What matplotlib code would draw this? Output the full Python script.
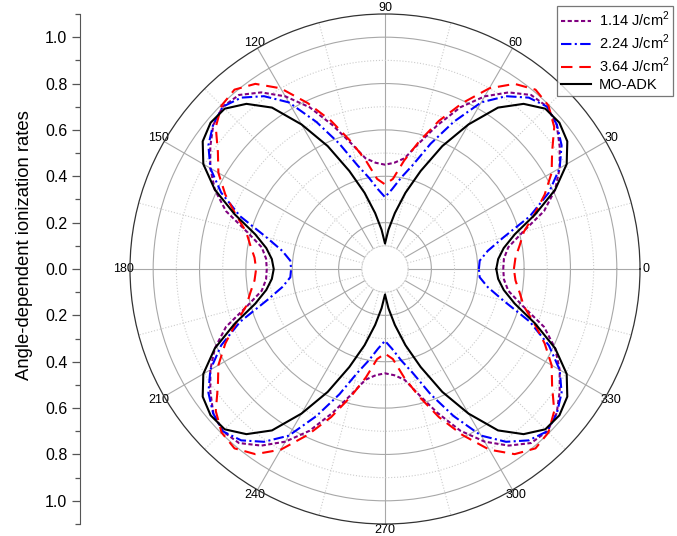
import numpy as np
import matplotlib.pyplot as plt
import matplotlib.ticker as mticker

plt.rcParams['font.family'] = ['Liberation Sans', 'DejaVu Sans']
plt.rcParams['mathtext.fontset'] = 'custom'
plt.rcParams['mathtext.rm'] = 'Liberation Sans'

# angle (deg) over one quadrant, curves are symmetric about both axes
angle_q = np.arange(0, 91, 5)

rate_114 = [0.51, 0.515, 0.54, 0.615, 0.73, 0.81, 0.87, 0.92, 0.967, 0.99,
            0.98, 0.93, 0.86, 0.77, 0.66, 0.56, 0.485, 0.46, 0.45]
rate_224 = [0.405, 0.41, 0.45, 0.53, 0.665, 0.78, 0.87, 0.93, 0.968, 0.99,
            0.965, 0.91, 0.83, 0.70, 0.575, 0.465, 0.40, 0.345, 0.31]
rate_364 = [0.556, 0.565, 0.59, 0.62, 0.685, 0.76, 0.83, 0.88, 0.953, 0.997,
            1.01, 0.975, 0.90, 0.79, 0.68, 0.57, 0.475, 0.39, 0.365]
rate_adk = [0.48, 0.49, 0.52, 0.58, 0.69, 0.81, 0.905, 0.96, 0.982, 0.978,
            0.93, 0.85, 0.72, 0.585, 0.45, 0.34, 0.245, 0.17, 0.11]

labels = ['1.14 J/cm$^2$', '2.24 J/cm$^2$', '3.64 J/cm$^2$', 'MO-ADK']
colors = ['#800080', '#0000ff', '#ff0000', '#000000']
styles = [(0, (2, 1.2)), (0, (5, 1.6, 1, 1.6)), (0, (5.5, 3.3)), '-']


def full_circle(a, r):
    a = np.asarray(a, float)
    r = np.asarray(r, float)
    th = np.concatenate([a, 180 - a[::-1][1:], 180 + a[1:], 360 - a[::-1][1:]])
    rr = np.concatenate([r, r[::-1][1:], r[1:], r[::-1][1:]])
    return np.deg2rad(th), rr


fig = plt.figure(figsize=(6.77, 5.36), dpi=100)
ax = fig.add_axes([130/677, 12/536, 510/677, 510/536], projection='polar')

for r, lab, c, ls in zip([rate_114, rate_224, rate_364, rate_adk], labels, colors, styles):
    th, rr = full_circle(angle_q, r)
    ax.plot(th, rr, color=c, linestyle=ls, lw=1.5, label=lab, zorder=3)

ax.set_ylim(0.1, 1.1)
ax.set_rorigin(0)
ax.set_yticks([0.2, 0.4, 0.6, 0.8, 1.0])
ax.set_yticks([0.3, 0.5, 0.7, 0.9], minor=True)
ax.set_yticklabels([])
ax.tick_params(axis='y', which='both', length=0)

ax.set_xticks(np.deg2rad(np.arange(0, 360, 30)))
ax.set_xticklabels([str(d) for d in range(0, 360, 30)], fontsize=9)
ax.set_xticks(np.deg2rad(np.arange(15, 360, 30)), minor=True)
ax.tick_params(axis='x', which='major', direction='inout', length=5, pad=-5, color='#555555')
ax.tick_params(axis='x', which='minor', direction='in', length=4, color='#555555')

ax.grid(True, which='major', color='#a8a8a8', lw=0.8, ls='-')
ax.grid(True, which='minor', color='#cccccc', lw=0.8, ls=':')
ax.spines['polar'].set_color('#333333')
ax.spines['polar'].set_linewidth(0.9)
ax.spines['inner'].set_color('#cccccc')
ax.spines['inner'].set_linestyle(':')
ax.spines['inner'].set_linewidth(0.8)

# separate radial scale on the left
ax2 = fig.add_axes([80/677, 12/536, 0.01, 510/536])
ax2.patch.set_visible(False)
for s in ['top', 'right', 'bottom']:
    ax2.spines[s].set_visible(False)
ax2.spines['left'].set_color('#555555')
ax2.set_ylim(-1.1, 1.1)
ax2.set_xticks([])
ax2.set_yticks(np.arange(-10, 11, 2) / 10)
ax2.set_yticks(np.arange(-11, 12, 2) / 10, minor=True)
ax2.yaxis.set_major_formatter(mticker.FuncFormatter(lambda v, p: f'{abs(v):.1f}'))
ax2.tick_params(axis='y', which='major', length=6, width=0.9, color='#555555', labelsize=11.5, pad=3)
ax2.tick_params(axis='y', which='minor', length=3.5, width=0.9, color='#555555')

fig.text(25/677, 1 - 245/536, 'Angle-dependent ionization rates', rotation=90,
         ha='center', va='center', fontsize=13.3)

leg = ax.legend(loc='upper right', bbox_to_anchor=(673/677, 1 - 6/536),
                bbox_transform=fig.transFigure, fontsize=10.5, frameon=True,
                fancybox=False, handlelength=2.1, handletextpad=0.5,
                labelspacing=0.25, borderpad=0.25, borderaxespad=0)
leg.get_frame().set_edgecolor('#555555')
leg.get_frame().set_linewidth(0.9)

fig.savefig('out.png', dpi=100)
